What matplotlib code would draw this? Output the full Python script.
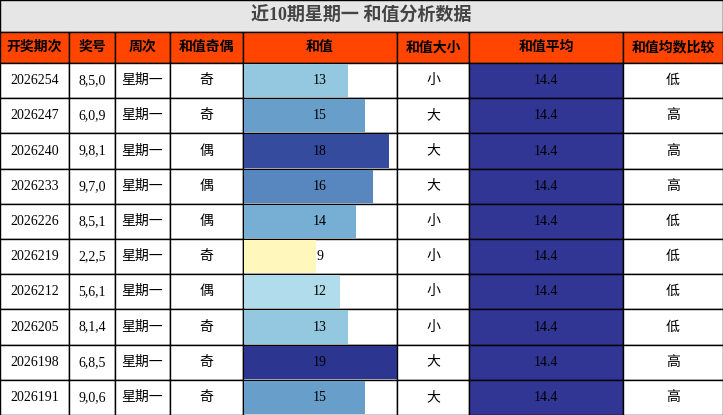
import matplotlib.pyplot as plt
from matplotlib.patches import Rectangle
import matplotlib.colors as mcolors

periods = ['2026254', '2026247', '2026240', '2026233', '2026226',
           '2026219', '2026212', '2026205', '2026198', '2026191']
numbers = ['8,5,0', '6,0,9', '9,8,1', '9,7,0', '8,5,1',
           '2,2,5', '5,6,1', '8,1,4', '6,8,5', '9,0,6']
weekday = ['星期一'] * 10
parity = ['奇', '奇', '偶', '偶', '偶', '奇', '偶', '奇', '奇', '奇']
sums = [13, 15, 18, 16, 14, 9, 12, 13, 19, 15]
size = ['小', '大', '大', '大', '小', '小', '小', '小', '大', '大']
avg = [14.4] * 10
compare = ['低', '高', '高', '高', '低', '低', '低', '低', '高', '高']
headers = ['开奖期次', '奖号', '周次', '和值奇偶', '和值', '和值大小', '和值平均', '和值均数比较']
title = '近10期星期一 和值分析数据'

fonts = ['Liberation Serif', 'Noto Sans CJK SC']
col_edges = [0, 69, 115, 170, 243, 397, 469, 623, 723]
title_h, head_h = 32, 31
row_h = (415 - title_h - head_h) / 10

cmap = mcolors.LinearSegmentedColormap.from_list(
    'sum', ['#fff7bc', '#d0ebf5', '#a8d8e8', '#76afd3', '#5f93c4', '#3a5aa8', '#2c3590'])

fig = plt.figure(figsize=(7.23, 4.15), dpi=100)
ax = fig.add_axes([0, 0, 1, 1])
ax.set_xlim(0, 723)
ax.set_ylim(415, 0)
ax.axis('off')

ax.add_patch(Rectangle((0, 0), 723, title_h, facecolor='#e6e6e6', edgecolor='black', lw=1))
ax.text(361.5, title_h / 2, title, ha='center', va='center', fontsize=13,
        fontweight='bold', color='#444444', family=fonts)

for i, h in enumerate(headers):
    x0, x1 = col_edges[i], col_edges[i + 1]
    ax.add_patch(Rectangle((x0, title_h), x1 - x0, head_h, facecolor='#ff4500', edgecolor='black', lw=1))
    ax.text((x0 + x1) / 2, title_h + head_h / 2, h, ha='center', va='center',
            fontsize=10, fontweight='bold', color='black', family=fonts)

smax = max(sums)
for r in range(10):
    y0 = title_h + head_h + r * row_h
    vals = [periods[r], numbers[r], weekday[r], parity[r], str(sums[r]), size[r], f'{avg[r]:.1f}', compare[r]]
    for c, v in enumerate(vals):
        x0, x1 = col_edges[c], col_edges[c + 1]
        fc = '#313695' if c == 6 else 'white'
        ax.add_patch(Rectangle((x0, y0), x1 - x0, row_h, facecolor=fc, edgecolor='black', lw=1))
        if c == 4:
            w = (x1 - x0) * sums[r] / smax
            ax.add_patch(Rectangle((x0 + 1, y0 + 1), w - 1, row_h - 2,
                                   facecolor=cmap((sums[r] - 9) / (smax - 9)), edgecolor='none'))
        ax.text((x0 + x1) / 2, y0 + row_h / 2, v, ha='center', va='center',
                fontsize=10, color='black', family=fonts)

fig.savefig('out.png', dpi=100)
